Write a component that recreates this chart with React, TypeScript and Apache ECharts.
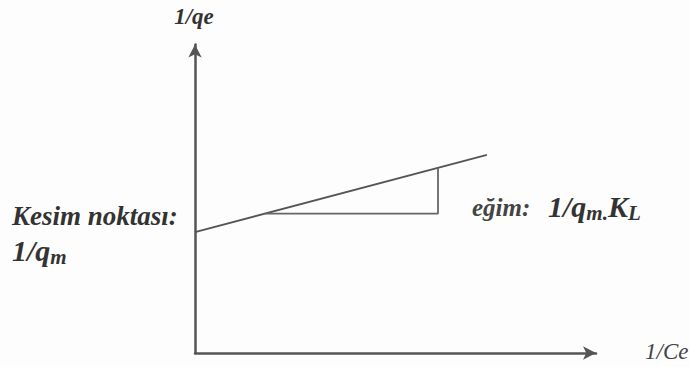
import React, { useEffect, useRef } from "react";
import * as echarts from "echarts";

// Linearized Langmuir plot (schematic): 1/qe vs 1/Ce
const fitLine: number[][] = [
  [0, 3.92],
  [7.28, 6.42],
];
const slopeTriangle: number[][] = [
  [1.75, 4.52],
  [6.06, 4.52],
  [6.06, 6.0],
];
const xAxisName = "1/Ce";
const yAxisName = "1/qe";
const interceptLabel = "Kesim noktası:";
const slopeLabel = "eğim:";

const SERIF = "Times New Roman, Liberation Serif, serif";

const ft = (size: number, bold = true, fill = "#333") => ({
  fontFamily: SERIF,
  fontSize: size,
  fontStyle: "italic",
  fontWeight: bold ? "bold" : "normal",
  fill,
});

export default function App() {
  const ref = useRef<HTMLDivElement>(null);
  useEffect(() => {
    document.body.style.margin = "0";
    if (!ref.current) return;
    const chart = echarts.init(ref.current, undefined, { renderer: "svg" });
    const axisLine = {
      show: true,
      onZero: true,
      symbol: ["none", "arrow"],
      symbolSize: [10, 13],
      lineStyle: { color: "#555", width: 2.5 },
    };
    chart.setOption({
      animation: false,
      backgroundColor: "#fdfdfd",
      grid: { left: 195, right: 94, top: 44.5, bottom: 14 },
      xAxis: {
        type: "value",
        min: 0,
        max: 10,
        axisLine,
        axisTick: { show: false },
        axisLabel: { show: false },
        splitLine: { show: false },
      },
      yAxis: {
        type: "value",
        min: 0,
        max: 10,
        axisLine,
        axisTick: { show: false },
        axisLabel: { show: false },
        splitLine: { show: false },
      },
      series: [
        {
          type: "line",
          data: fitLine,
          symbol: "none",
          lineStyle: { color: "#555", width: 1.8 },
        },
        {
          type: "line",
          data: slopeTriangle,
          symbol: "none",
          lineStyle: { color: "#666", width: 1.8 },
        },
      ],
      graphic: [
        {
          type: "text",
          x: 194,
          y: 16,
          style: {
            text: yAxisName,
            ...ft(23),
            align: "center",
            verticalAlign: "middle",
          },
        },
        {
          type: "text",
          x: 645,
          y: 351,
          style: {
            text: xAxisName,
            ...ft(23, false, "#444"),
            align: "left",
            verticalAlign: "middle",
          },
        },
        {
          type: "text",
          x: 12,
          y: 216,
          style: {
            text: interceptLabel,
            ...ft(27),
            align: "left",
            verticalAlign: "middle",
          },
        },
        {
          type: "text",
          x: 12,
          y: 250,
          style: {
            text: "{a|1/q}{s|m}",
            align: "left",
            verticalAlign: "middle",
            rich: {
              a: { ...ft(30), lineHeight: 34 },
              s: { ...ft(21), lineHeight: 20, verticalAlign: "bottom" },
            },
          },
        },
        {
          type: "text",
          x: 472,
          y: 207,
          style: {
            text: slopeLabel,
            ...ft(25, true, "#444"),
            align: "left",
            verticalAlign: "middle",
          },
        },
        {
          type: "text",
          x: 548,
          y: 206,
          style: {
            text: "{a|1/q}{s|m}{s|.}{a|K}{s|L}",
            align: "left",
            verticalAlign: "middle",
            rich: {
              a: { ...ft(30), lineHeight: 34 },
              s: { ...ft(21), lineHeight: 20, verticalAlign: "bottom" },
            },
          },
        },
      ],
    });
    return () => chart.dispose();
  }, []);
  return <div ref={ref} style={{ width: 690, height: 367 }} />;
}
